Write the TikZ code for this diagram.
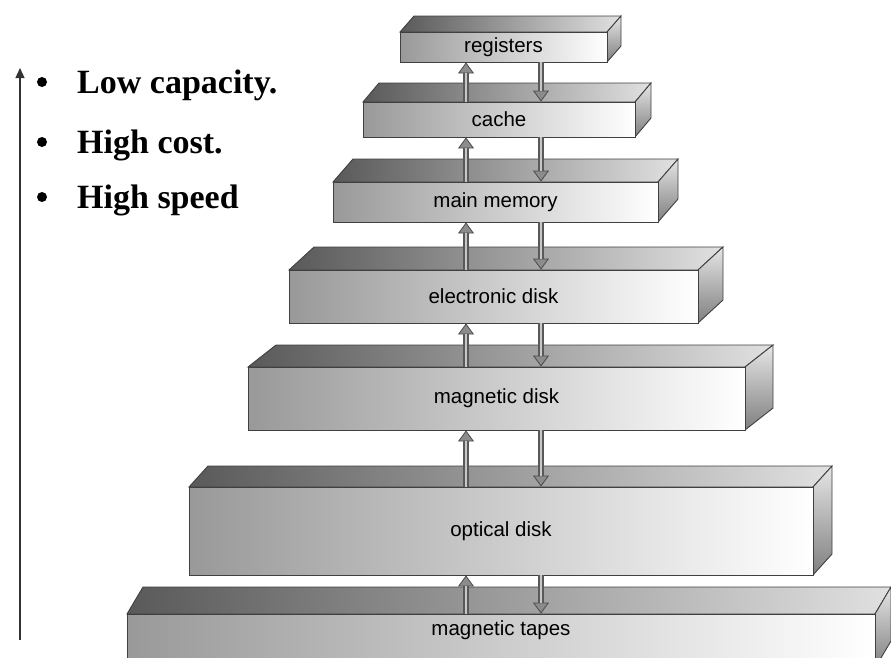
\documentclass[tikz,border=0pt]{standalone}
\usepackage{fontspec}
\setmainfont{Liberation Serif}
\newfontfamily\boxfont{Liberation Sans}
\usetikzlibrary{positioning,arrows.meta}

\begin{document}
\begin{tikzpicture}[
		x=1pt, y=-1pt,
		>=Latex,
		front/.style={
			draw=black!75, line width=0.9pt, inner sep=0pt,
			left color=black!40, right color=white,
			font=\boxfont\fontsize{20.5}{20.5}\selectfont, text=black
		},
		topface/.style={draw=black!75, line width=0.9pt, left color=black!65, right color=black!12},
		sideface/.style={draw=black!75, line width=0.9pt, top color=black!10, bottom color=black!50},
		flow/.style={
			line width=5.5pt, draw=black!65,
			-{Triangle[width=16pt,length=11pt,line width=0.8pt,color=black!70,fill=black!45]},
			postaction={draw=black!22, line width=2.5pt, arrows=-, shorten >=11pt}
		},
		point/.style={font=\bfseries\fontsize{34}{34}\selectfont, anchor=base west, inner sep=0pt},
		bullet/.style={circle, fill=black, inner sep=0pt, minimum size=10pt}
		]
		
		\useasboundingbox (0,0) rectangle (891,657);
		\clip (0,0) rectangle (891,657);
		
		%--------------------------------------------------
		% Levels
		%--------------------------------------------------
		
		\foreach \nm/\xa/\xb/\ya/\yb/\dx/\dy/\sh/\txt in {
			reg/400/607/32/62/14/16/0/registers,
			cache/363/635/102/137/16/19/0/cache,
			main/333/658/182/222/20/23/0/main memory,
			elec/289/698/270/323/25/23/0/electronic disk,
			magd/248/745/367/430/28/22/0/magnetic disk,
			opt/189/813/487/575/19/21/0/optical disk,
			tape/127/875/614/668/16/27/26/magnetic tapes}
		{
			\shadedraw[topface] (\xa,\ya) -- ++(\dx,-\dy) -- (\xb+\dx,\ya-\dy) -- (\xb,\ya) -- cycle;
			\shadedraw[sideface] (\xb,\ya) -- (\xb+\dx,\ya-\dy) -- (\xb+\dx,\yb-\dy) -- (\xb,\yb) -- cycle;
			\node[front, minimum width={\xb-\xa}, minimum height={\yb-\ya}] (\nm)
			at ({(\xa+\xb)/2},{(\ya+\yb)/2}) {\raisebox{\sh pt}{\txt}};
		}
		
		%--------------------------------------------------
		% Transfers
		%--------------------------------------------------
		
		\coordinate (upx) at (466,0);
		\coordinate (dnx) at (541,0);
		
		\foreach \hi/\lo in {reg/cache,cache/main,main/elec,elec/magd,magd/opt,opt/tape}
		{
			\draw[flow] (\lo.north -| upx) -- (\hi.south -| upx);
			\draw[flow] (\hi.south -| dnx) -- (\lo.north -| dnx);
		}
		
		%--------------------------------------------------
		% Notes
		%--------------------------------------------------
		
		\coordinate (foot) at (20,640);
		\coordinate (head) at (20,68);
		\draw[black!80, line width=1.2pt, -{Triangle[width=9pt,length=10pt]}] (foot) -- (head);
		
		\node[bullet] (b1) at (42,82) {};
		\node[bullet] (b2) at (42,142) {};
		\node[bullet] (b3) at (42,197) {};
		\node[point] (cap) at (77,93) {Low capacity.};
		\node[point] (cost) at (77,153) {High cost.};
		\node[point] (speed) at (77,208) {High speed};
		
	\end{tikzpicture}
\end{document}
